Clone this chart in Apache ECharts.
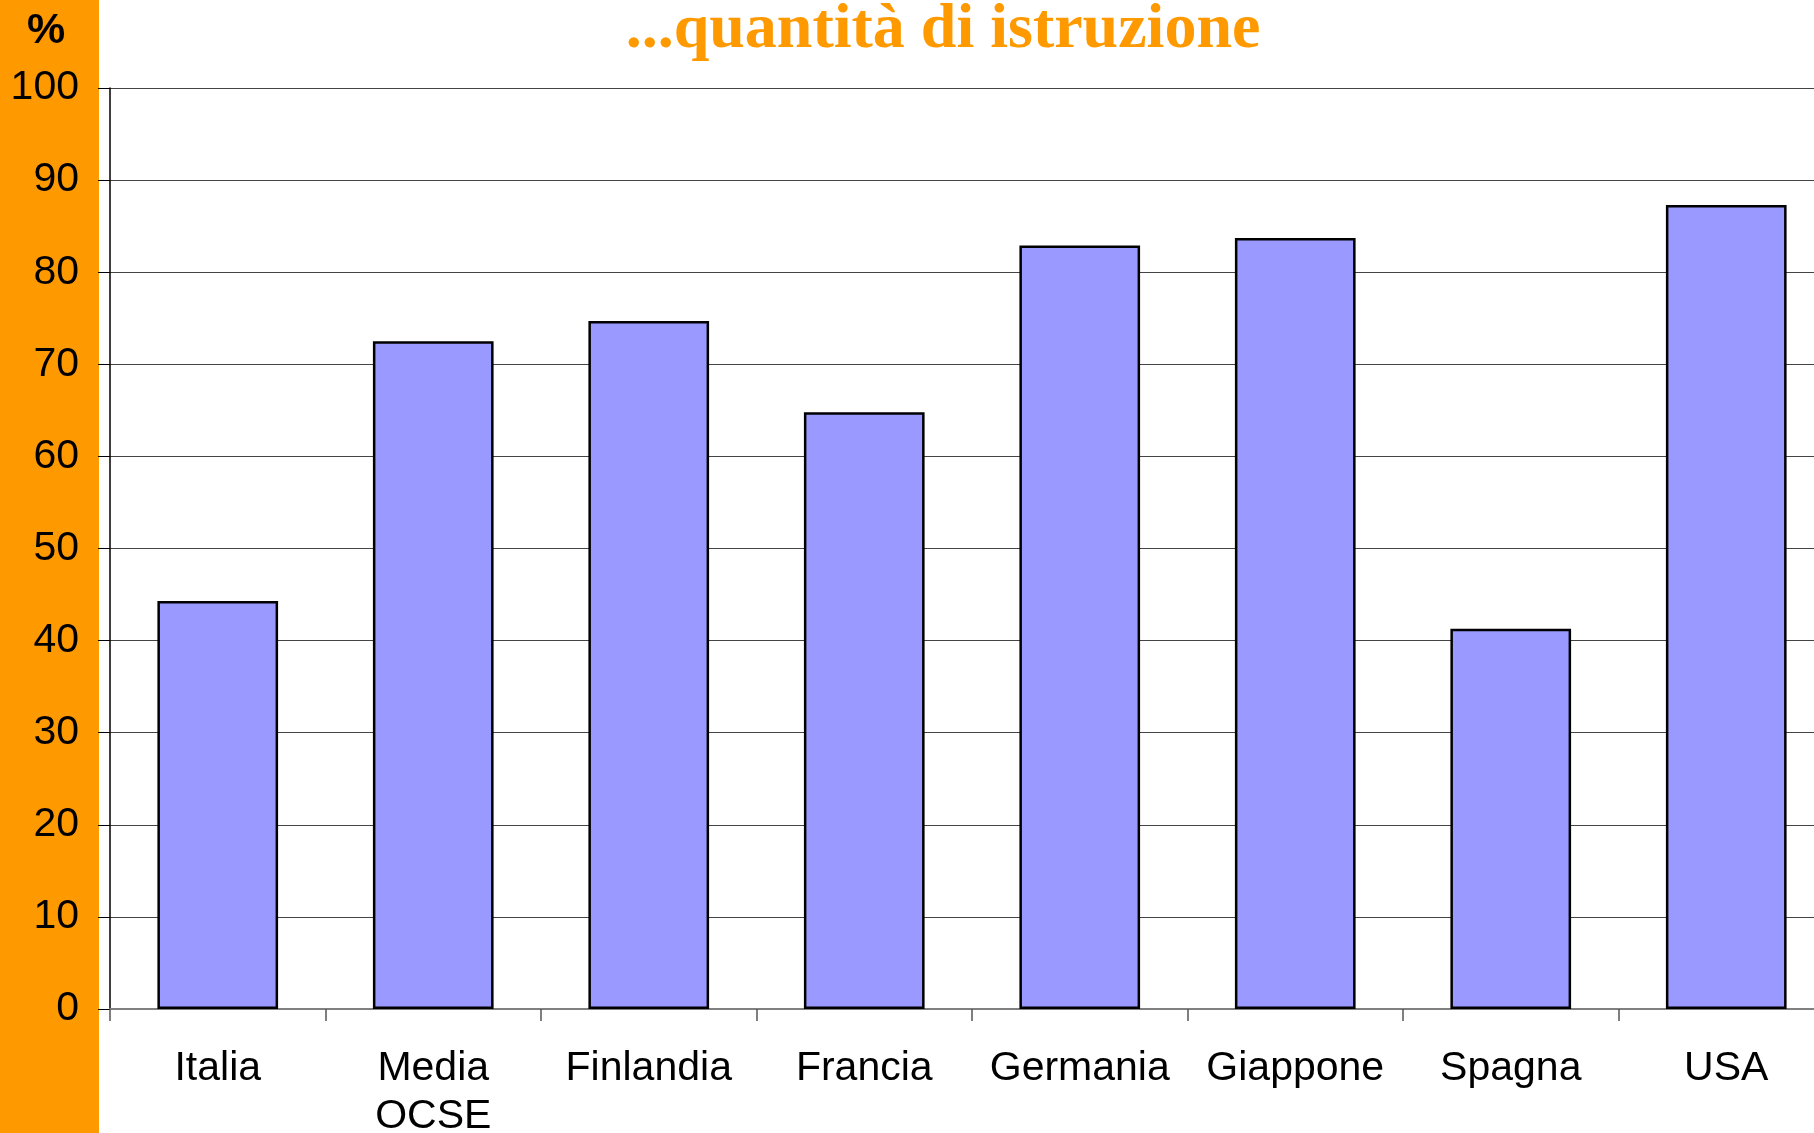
<!DOCTYPE html>
<html>
<head>
<meta charset="utf-8">
<script src="https://cdn.jsdelivr.net/npm/echarts@6/dist/echarts.min.js"></script>
<style>
  html, body { margin: 0; padding: 0; overflow: hidden; background: #fff; }
  #chart { width: 1840px; height: 1133px; }
</style>
</head>
<body>
<div id="chart"></div>
<script>
  var categories = ['Italia', 'Media\nOCSE', 'Finlandia', 'Francia', 'Germania', 'Giappone', 'Spagna', 'USA'];
  var values = [44.3, 72.5, 74.7, 64.8, 82.9, 83.7, 41.3, 87.3];
  var yTicks = { min: 0, max: 100, interval: 10 };

  var myChart = echarts.init(document.getElementById('chart'));
  var option = {
    backgroundColor: '#fff',
    animation: false,
    graphic: [
      {
        type: 'rect',
        z: -10,
        shape: { x: 0, y: 0, width: 99, height: 1133 },
        style: { fill: '#FF9900' }
      },
      {
        type: 'text',
        x: 46, y: 31,
        style: {
          text: '%',
          font: 'bold 43px "Liberation Sans", Arial',
          fill: '#000',
          align: 'center',
          verticalAlign: 'middle'
        }
      },
      {
        type: 'text',
        x: 943, y: 30,
        style: {
          text: '...quantità di istruzione',
          font: 'bold 64px "Liberation Serif", "Times New Roman", serif',
          fill: '#FF9900',
          align: 'center',
          verticalAlign: 'middle'
        }
      }
    ],
    grid: {
      left: 110,
      top: 88,
      width: 1724,
      bottom: 124,
      containLabel: false,
      outerBoundsMode: 'none'
    },
    xAxis: {
      type: 'category',
      data: categories,
      axisLine: { show: true, lineStyle: { color: '#808080', width: 2 } },
      axisTick: { show: true, length: 12, alignWithLabel: false, lineStyle: { color: '#555', width: 1.5 } },
      axisLabel: {
        interval: 0,
        margin: 36,
        color: '#000',
        fontSize: 41,
        lineHeight: 48,
        fontFamily: '"Liberation Sans", Arial'
      }
    },
    yAxis: {
      type: 'value',
      min: yTicks.min,
      max: yTicks.max,
      interval: yTicks.interval,
      axisLine: { show: true, lineStyle: { color: '#000', width: 1.5 } },
      axisTick: { show: true, length: 12, lineStyle: { color: '#000', width: 1 } },
      axisLabel: {
        margin: 31,
        color: '#000',
        fontSize: 41,
        fontFamily: '"Liberation Sans", Arial'
      },
      splitLine: { show: true, lineStyle: { color: '#444', width: 1 } }
    },
    series: [{
      type: 'bar',
      data: values,
      barCategoryGap: '44%',
      itemStyle: {
        color: '#9999FF',
        borderColor: '#000',
        borderWidth: 2.5
      }
    }]
  };
  myChart.setOption(option);
</script>
</body>
</html>
